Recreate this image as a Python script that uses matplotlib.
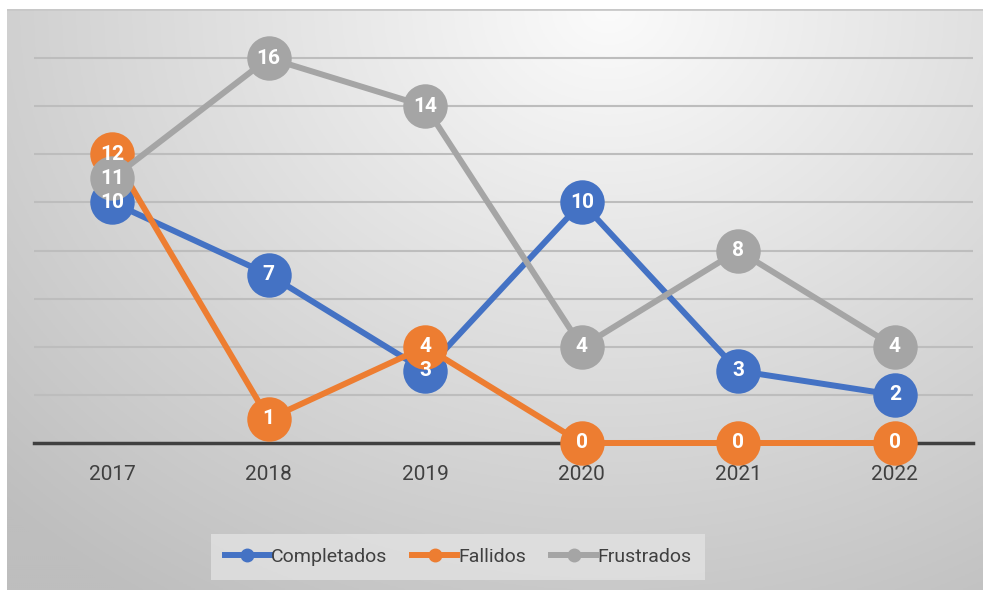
import numpy as np
import matplotlib
matplotlib.use("Agg")
import matplotlib.pyplot as plt
from matplotlib.lines import Line2D

plt.rcParams['font.family'] = ['Roboto', 'DejaVu Sans']

years = ['2017', '2018', '2019', '2020', '2021', '2022']
completados = [10, 7, 3, 10, 3, 2]
fallidos = [12, 1, 4, 0, 0, 0]
frustrados = [11, 16, 14, 4, 8, 4]

series = [('Completados', completados, '#4472C4'),
          ('Fallidos', fallidos, '#ED7D31'),
          ('Frustrados', frustrados, '#A5A5A5')]

fig = plt.figure(figsize=(9.92, 5.91), dpi=100)

# background gradient panel
bg = fig.add_axes([7/992, 1-590/591, 976/992, 581/591])
bg.set_axis_off()
h, w = 290, 488
yy, xx = np.mgrid[0:h, 0:w]
xx = xx * (976/w)
yy = yy * (581/h)
d = np.sqrt(((xx-600)/1.05)**2 + (yy*1.15)**2)
val = 251 - d * 0.075
val = np.clip(val, 190, 252) / 255.0
img = np.dstack([val, val, val])
bg.imshow(img, aspect='auto', extent=[0, 1, 0, 1], origin='upper')
bg.set_xlim(0, 1)
bg.set_ylim(0, 1)
bg.axhline(1, color='#c8c8c8', lw=2)

ax = fig.add_axes([34/992, 1-443/591, 939/992, 433/591])
ax.patch.set_alpha(0)
x = np.arange(len(years))
ax.set_xlim(-0.5, len(years)-0.5)
ax.set_ylim(0, 18)
ax.set_yticks(range(2, 17, 2))
ax.yaxis.grid(True, color='#bdbdbd', lw=1.5)
ax.set_axisbelow(True)
ax.tick_params(axis='y', left=False, labelleft=False)
ax.tick_params(axis='x', length=0, pad=16, labelsize=15, labelcolor='#404040')
ax.set_xticks(x)
ax.set_xticklabels(years)
for s in ['top', 'right', 'left']:
    ax.spines[s].set_visible(False)
ax.spines['bottom'].set_color('#404040')
ax.spines['bottom'].set_linewidth(2.5)
ax.spines['bottom'].set_zorder(2.5)

for i, (name, vals, col) in enumerate(series):
    ax.plot(x, vals, color=col, lw=4.3, marker='o', markersize=32,
            markeredgewidth=0, zorder=3+i, clip_on=False, label=name)

for name, vals, col in series:
    for xi, v in zip(x, vals):
        ax.text(xi, v, str(v), ha='center', va='center', color='white',
                fontsize=15, fontweight='bold', zorder=10)

leg_handles = [Line2D([0], [0], color=c, lw=4.3, marker='o', markersize=9)
               for _, _, c in series]
leg = fig.legend(leg_handles, [s[0] for s in series], loc='center',
                 bbox_to_anchor=(458/992, 1-557/591), ncol=3, frameon=True,
                 fontsize=14, handlelength=2.3, handletextpad=0.05,
                 columnspacing=1.3, borderpad=0.7, fancybox=False)
leg.get_frame().set_facecolor('#e2e2e2')
leg.get_frame().set_edgecolor('none')
for t in leg.get_texts():
    t.set_color('#404040')

fig.savefig('out.png', dpi=100)
